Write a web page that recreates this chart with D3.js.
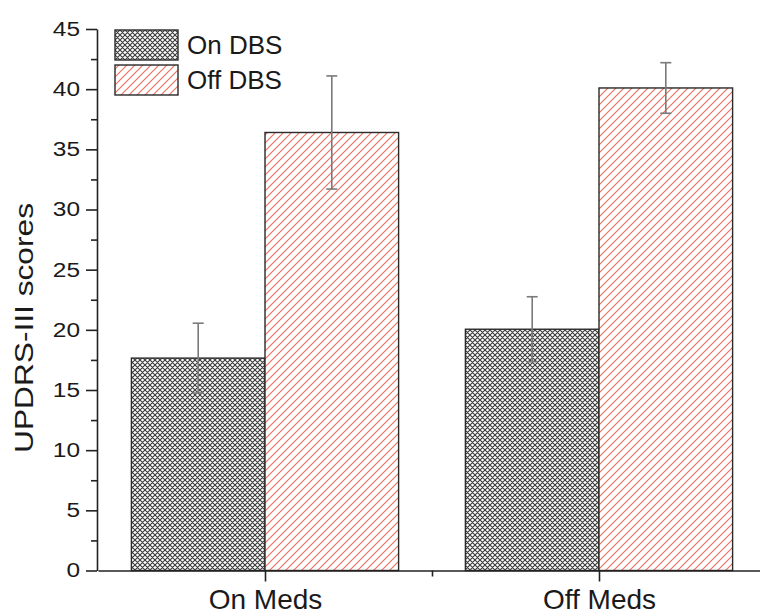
<!DOCTYPE html>
<html>
<head>
<meta charset="utf-8">
<script src="https://cdn.jsdelivr.net/npm/d3@7/dist/d3.min.js"></script>
<style>
  html, body { margin: 0; padding: 0; background: #fff; }
  svg { display: block; font-family: "Liberation Sans", Arial, sans-serif; }
</style>
</head>
<body>
<svg id="chart" width="760" height="614"></svg>
<script>
// UPDRS-III scores by medication state, with and without DBS (mean ± error)
const categories = ["On Meds", "Off Meds"];
const seriesNames = ["On DBS", "Off DBS"];
const onDBS = [17.65, 20.05];
const offDBS = [36.4, 40.1];
const onDBSErr = [2.9, 2.7];
const offDBSErr = [4.7, 2.1];
const yMajorTicks = [0, 5, 10, 15, 20, 25, 30, 35, 40, 45];
const yMinorTicks = [2.5, 7.5, 12.5, 17.5, 22.5, 27.5, 32.5, 37.5, 42.5];

const svg = d3.select("#chart");

// fill patterns
const defs = svg.append("defs");
const cross = defs.append("pattern")
  .attr("id", "crossHatch").attr("patternUnits", "userSpaceOnUse")
  .attr("width", 5).attr("height", 5);
cross.append("rect").attr("width", 5).attr("height", 5).attr("fill", "#fff");
cross.append("path")
  .attr("d", "M0,0L5,5M0,5L5,0M-1,1L1,-1M4,6L6,4M-1,4L1,6M4,-1L6,1")
  .attr("stroke", "#3c3c3c").attr("stroke-width", 1.15);

const diag = defs.append("pattern")
  .attr("id", "diagHatch").attr("patternUnits", "userSpaceOnUse")
  .attr("width", 8).attr("height", 8);
diag.append("rect").attr("width", 8).attr("height", 8).attr("fill", "#fff");
diag.append("path")
  .attr("d", "M0,8L8,0M-2,2L2,-2M6,10L10,6")
  .style("stroke", "rgb(240, 110, 90)").style("stroke-width", "1.1px");

const fills = ["url(#crossHatch)", "url(#diagHatch)"];

// scales
const x = d3.scaleLinear().domain([0.5, 2.5]).range([98, 766]);
const y = d3.scaleLinear().domain([0, 45]).range([570.5, 29]);
const barW = 0.4;

const rows = categories.map((c, i) => ({
  cat: c, pos: i + 1,
  values: [
    { s: 0, v: onDBS[i], e: onDBSErr[i] },
    { s: 1, v: offDBS[i], e: offDBSErr[i] }
  ]
}));

const bars = [];
rows.forEach(r => r.values.forEach(d => bars.push({ ...d, pos: r.pos })));

// bars
svg.append("g").selectAll("rect").data(bars).join("rect")
  .attr("x", d => x(d.pos - barW + d.s * barW))
  .attr("width", d => x(d.pos + barW) - x(d.pos))
  .attr("y", d => y(d.v))
  .attr("height", d => y(0) - y(d.v))
  .attr("fill", d => fills[d.s])
  .attr("stroke", "#2a2a2a").attr("stroke-width", 1.4);

// error bars
const eg = svg.append("g").attr("stroke", "#7a7a7a").attr("stroke-width", 1.6).attr("fill", "none");
bars.forEach(d => {
  const cx = x(d.pos - barW / 2 + d.s * barW);
  eg.append("line").attr("x1", cx).attr("x2", cx).attr("y1", y(d.v + d.e)).attr("y2", y(d.v - d.e));
  [d.v + d.e, d.v - d.e].forEach(v => {
    eg.append("line").attr("x1", cx - 5.5).attr("x2", cx + 5.5).attr("y1", y(v)).attr("y2", y(v));
  });
});

// y axis
const yAxis = svg.append("g").attr("transform", "translate(97,0)")
  .call(d3.axisLeft(y).tickValues(yMajorTicks).tickSize(11).tickSizeOuter(0).tickPadding(6));
svg.append("g").attr("transform", "translate(97,0)")
  .call(d3.axisLeft(y).tickValues(yMinorTicks).tickSize(6).tickSizeOuter(0).tickFormat(""))
  .select(".domain").remove();
yAxis.selectAll("text")
  .attr("font-size", 20).attr("fill", "#1a1a1a")
  .attr("font-family", "'Liberation Sans', Arial, sans-serif")
  .attr("textLength", function () { return this.textContent.length * 13.6; })
  .attr("lengthAdjust", "spacingAndGlyphs");

// x axis
const xAxis = svg.append("g").attr("transform", `translate(0,${y(0)})`)
  .call(d3.axisBottom(x).tickValues([1, 2]).tickFormat(d => categories[d - 1])
    .tickSize(11).tickSizeOuter(0).tickPadding(8));
svg.append("g").attr("transform", `translate(0,${y(0)})`)
  .call(d3.axisBottom(x).tickValues([1.5]).tickSize(6).tickFormat(""))
  .select(".domain").remove();
xAxis.selectAll("text")
  .attr("font-size", 28).attr("fill", "#1a1a1a")
  .attr("font-family", "'Liberation Sans', Arial, sans-serif");

svg.selectAll(".domain, .tick line").attr("stroke", "#222").attr("stroke-width", 1.6);

// y axis title
svg.append("text")
  .attr("transform", "translate(33,328) rotate(-90)")
  .attr("text-anchor", "middle")
  .attr("font-size", 26.5).attr("fill", "#1a1a1a")
  .attr("textLength", 250).attr("lengthAdjust", "spacingAndGlyphs")
  .text("UPDRS-III scores");

// legend
const legend = svg.append("g");
seriesNames.forEach((name, i) => {
  const ly = 30 + i * 35;
  legend.append("rect")
    .attr("x", 115).attr("y", ly).attr("width", 63).attr("height", 30)
    .attr("fill", fills[i]).attr("stroke", "#2a2a2a").attr("stroke-width", 1.4);
  legend.append("text")
    .attr("x", 187).attr("y", ly + 24)
    .attr("font-size", 26).attr("fill", "#1a1a1a")
    .text(name);
});
</script>
</body>
</html>
